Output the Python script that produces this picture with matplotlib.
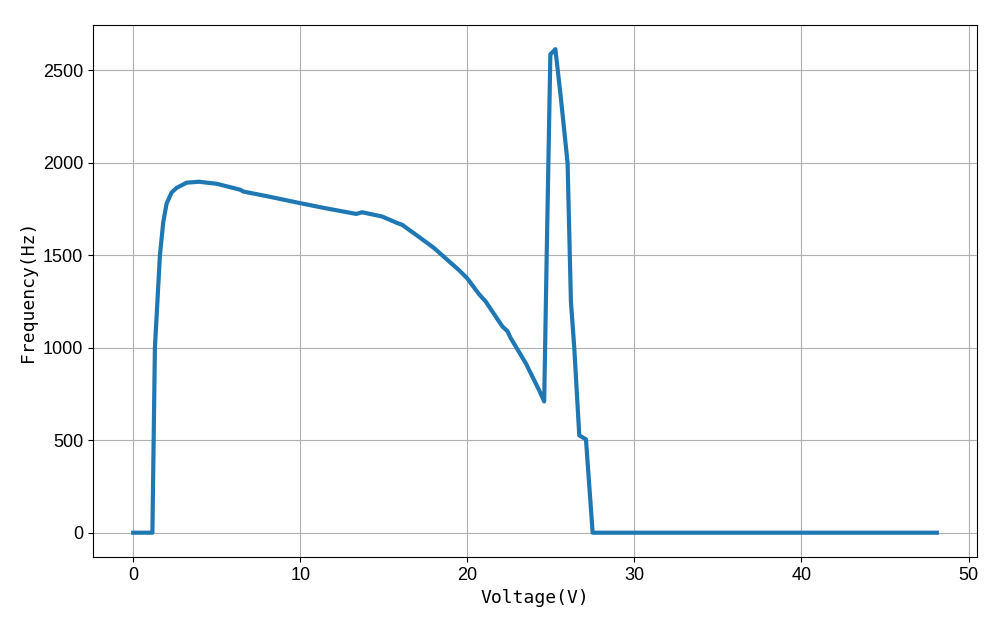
import matplotlib
matplotlib.use("Agg")
import matplotlib.pyplot as plt

voltage = [0.0, 1.15, 1.3, 1.45, 1.6, 1.8, 2.0, 2.3, 2.6, 3.2, 3.95, 5.0, 6.4, 6.6,
           8.0, 9.9, 11.5, 13.35, 13.7, 14.9, 15.8, 16.1, 17.1, 18.0, 19.0, 19.5, 20.0,
           20.7, 21.1, 22.1, 22.4, 22.6, 23.5, 24.3, 24.6, 24.75, 24.97, 25.27, 25.6,
           26.0, 26.2, 26.4, 26.7, 27.1, 27.5, 48.1]
frequency = [0, 0, 1000, 1250, 1500, 1680, 1780, 1840, 1865, 1893, 1898, 1887, 1855, 1845,
             1820, 1784, 1755, 1724, 1733, 1710, 1675, 1665, 1600, 1540, 1460, 1420, 1375,
             1290, 1250, 1115, 1090, 1052, 916, 770, 710, 1500, 2587, 2615, 2350,
             2000, 1250, 1000, 526, 505, 0, 0]

fig, ax = plt.subplots(figsize=(10, 6.25), dpi=100)
fig.subplots_adjust(left=0.093, right=0.977, top=0.96, bottom=0.109)
ax.plot(voltage, frequency, color="#1f77b4", linewidth=3)
ax.grid(True, color="#b0b0b0", linewidth=0.8)
ax.set_xlabel("Voltage(V)", fontsize=13, family=["DejaVu Sans Mono"])
ax.set_ylabel("Frequency(Hz)", fontsize=13, family=["DejaVu Sans Mono"])
for lab in ax.get_xticklabels() + ax.get_yticklabels():
    lab.set_fontfamily("Liberation Sans")
    lab.set_fontsize(13)
fig.savefig("out.png")
